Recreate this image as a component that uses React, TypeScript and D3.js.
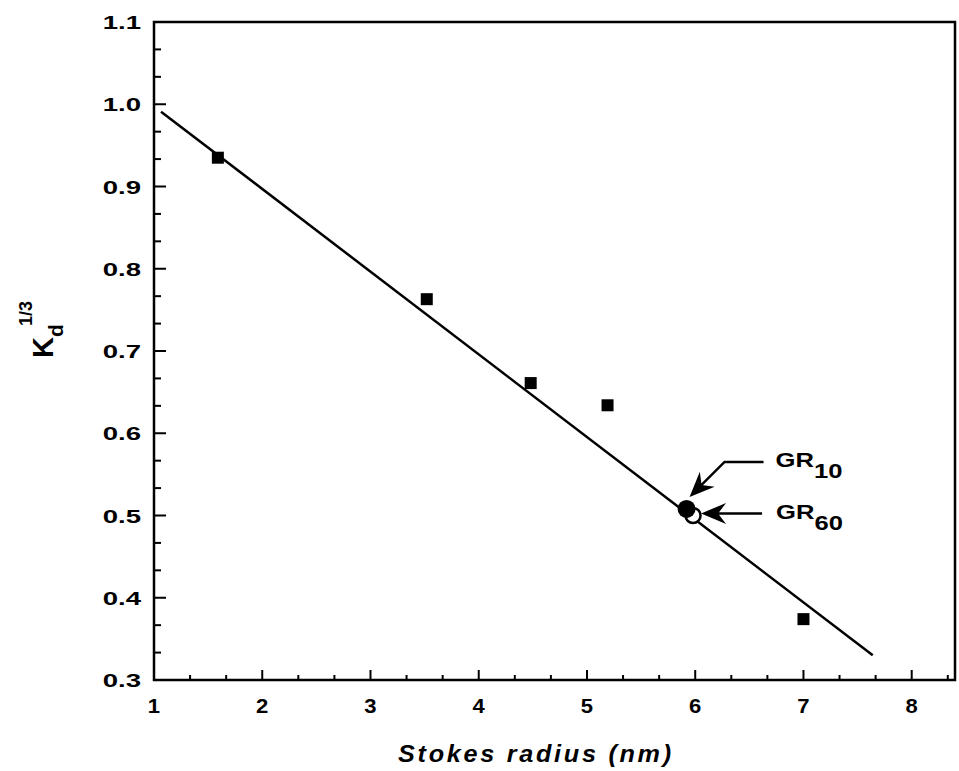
import React from "react";
import * as d3 from "d3";

// Measured proteins: Stokes radius (nm) vs Kd^(1/3)
const stokesRadius = [1.59, 3.52, 4.48, 5.19, 7.0];
const kdCubeRoot = [0.935, 0.763, 0.661, 0.634, 0.374];

// Regression line end points
const fitX = [1.065, 7.64];
const fitY = [0.991, 0.33];

// Glucocorticoid receptor forms
const grNames = ["10", "60"];
const grRadius = [5.92, 5.98];
const grKd = [0.508, 0.5];

const xMajor = [1, 2, 3, 4, 5, 6, 7, 8];
const yMajor = [0.3, 0.4, 0.5, 0.6, 0.7, 0.8, 0.9, 1.0, 1.1];

const W = 959;
const H = 771;
const FONT = "'Liberation Sans', Arial, Helvetica, sans-serif";

const x = d3.scaleLinear().domain([1, 8.4]).range([154, 955]);
const y = d3.scaleLinear().domain([0.3, 1.1]).range([680, 22]);

// minor ticks at thirds of each major interval
const xMinor = d3.range(1, 8.4, 1 / 3).filter((v) => Math.abs(v - Math.round(v)) > 0.01);
const yMinor = d3.range(0.3, 1.1, 0.1 / 3).filter((v) => Math.abs(v * 10 - Math.round(v * 10)) > 0.01);

function arrowHead(tx: number, ty: number, dx: number, dy: number, len = 25, half = 10.5, notch = 8) {
  const n = Math.hypot(dx, dy);
  const ux = dx / n;
  const uy = dy / n;
  const px = -uy;
  const py = ux;
  const bx = tx - ux * len;
  const by = ty - uy * len;
  const nx = tx - ux * (len - notch);
  const ny = ty - uy * (len - notch);
  return `M${tx},${ty}L${bx + px * half},${by + py * half}L${nx},${ny}L${bx - px * half},${by - py * half}Z`;
}

// Text with horizontally widened glyphs
function Wide(props: {
  x: number;
  y: number;
  sx: number;
  size: number;
  anchor?: "start" | "middle" | "end";
  italic?: boolean;
  spacing?: number;
  children: React.ReactNode;
}) {
  return (
    <text
      transform={`translate(${props.x},${props.y}) scale(${props.sx},1)`}
      textAnchor={props.anchor || "start"}
      fontFamily={FONT}
      fontWeight="bold"
      fontStyle={props.italic ? "italic" : "normal"}
      fontSize={props.size}
      letterSpacing={props.spacing || 0}
      fill="#000"
    >
      {props.children}
    </text>
  );
}

export default function App() {
  const line = d3
    .line<number>()
    .x((_, i) => x(fitX[i]))
    .y((d) => y(d));

  const gx0 = x(grRadius[0]);
  const gy0 = y(grKd[0]);
  const gx1 = x(grRadius[1]);
  const gy1 = y(grKd[1]);

  // arrow to GR10 (elbow), arrow to GR60 (straight)
  const a10Tip = [gx0 + 3, gy0 - 12];
  const a10Elbow = [gx0 + 38, gy0 - 47];
  const a10End = [gx0 + 77, gy0 - 47];
  const a60Tip = [gx1 + 8, gy1 - 2];
  const a60End = [gx1 + 69, gy1 - 2];

  return (
    <svg width={W} height={H} style={{ display: "block", position: "absolute", left: 0, top: 0 }}>
      <rect width={W} height={H} fill="#fff" />

      {/* frame */}
      <rect
        x={x(1)}
        y={y(1.1)}
        width={x(8.4) - x(1)}
        height={y(0.3) - y(1.1)}
        fill="none"
        stroke="#000"
        strokeWidth={2.5}
      />

      {/* x ticks */}
      {xMajor.map((v) => (
        <line key={"xm" + v} x1={x(v)} x2={x(v)} y1={y(0.3)} y2={y(0.3) - 10} stroke="#000" strokeWidth={2} />
      ))}
      {xMinor.map((v, i) => (
        <line key={"xn" + i} x1={x(v)} x2={x(v)} y1={y(0.3)} y2={y(0.3) - 5} stroke="#000" strokeWidth={2} />
      ))}
      {xMajor.map((v) => (
        <Wide key={"xl" + v} x={x(v)} y={713} sx={1.05} size={21} anchor="middle">
          {v}
        </Wide>
      ))}

      {/* y ticks */}
      {yMajor.map((v) => (
        <line key={"ym" + v} x1={x(1)} x2={x(1) + 12} y1={y(v)} y2={y(v)} stroke="#000" strokeWidth={2} />
      ))}
      {yMinor.map((v, i) => (
        <line key={"yn" + i} x1={x(1)} x2={x(1) + 7} y1={y(v)} y2={y(v)} stroke="#000" strokeWidth={2} />
      ))}
      {yMajor.map((v) => (
        <Wide key={"yl" + v} x={141} y={y(v) + 7} sx={1.45} size={19} anchor="end">
          {v.toFixed(1)}
        </Wide>
      ))}

      {/* regression line */}
      <path d={line(fitY) || ""} fill="none" stroke="#000" strokeWidth={2.5} />

      {/* data squares */}
      {stokesRadius.map((r, i) => (
        <rect key={"p" + i} x={x(r) - 6} y={y(kdCubeRoot[i]) - 6} width={12} height={12} fill="#000" />
      ))}

      {/* GR forms */}
      <circle cx={gx1} cy={gy1} r={7.5} fill="#fff" stroke="#000" strokeWidth={2.5} />
      <circle cx={gx0} cy={gy0} r={9} fill="#000" />

      {/* annotation arrows */}
      <polyline
        points={`${a10End[0]},${a10End[1]} ${a10Elbow[0]},${a10Elbow[1]} ${a10Tip[0] + 10},${a10Tip[1] - 10}`}
        fill="none"
        stroke="#000"
        strokeWidth={2.5}
      />
      <path d={arrowHead(a10Tip[0], a10Tip[1], a10Tip[0] - a10Elbow[0], a10Tip[1] - a10Elbow[1])} fill="#000" />
      <line x1={a60End[0]} y1={a60End[1]} x2={a60Tip[0] + 12} y2={a60Tip[1]} stroke="#000" strokeWidth={2.5} />
      <path d={arrowHead(a60Tip[0], a60Tip[1], -1, 0)} fill="#000" />

      <Wide x={a10End[0] + 12} y={a10End[1] + 5} sx={1.22} size={21}>
        GR
        <tspan dy={11}>{grNames[0]}</tspan>
      </Wide>
      <Wide x={a60End[0] + 14} y={a60End[1] + 5} sx={1.22} size={21}>
        GR
        <tspan dy={11}>{grNames[1]}</tspan>
      </Wide>

      {/* axis titles */}
      <Wide x={398} y={762} sx={1.05} size={24} italic spacing={2.6}>
        Stokes radius (nm)
      </Wide>
      <g transform="translate(53,358) rotate(-90)">
        <text x={0} y={0} fontFamily={FONT} fontWeight="bold" fontSize={29} fill="#000">
          K
        </text>
        <text x={21} y={10} fontFamily={FONT} fontWeight="bold" fontSize={21} fill="#000">
          d
        </text>
        <text x={32} y={-21} fontFamily={FONT} fontWeight="bold" fontSize={18} fill="#000">
          1/3
        </text>
      </g>
    </svg>
  );
}
